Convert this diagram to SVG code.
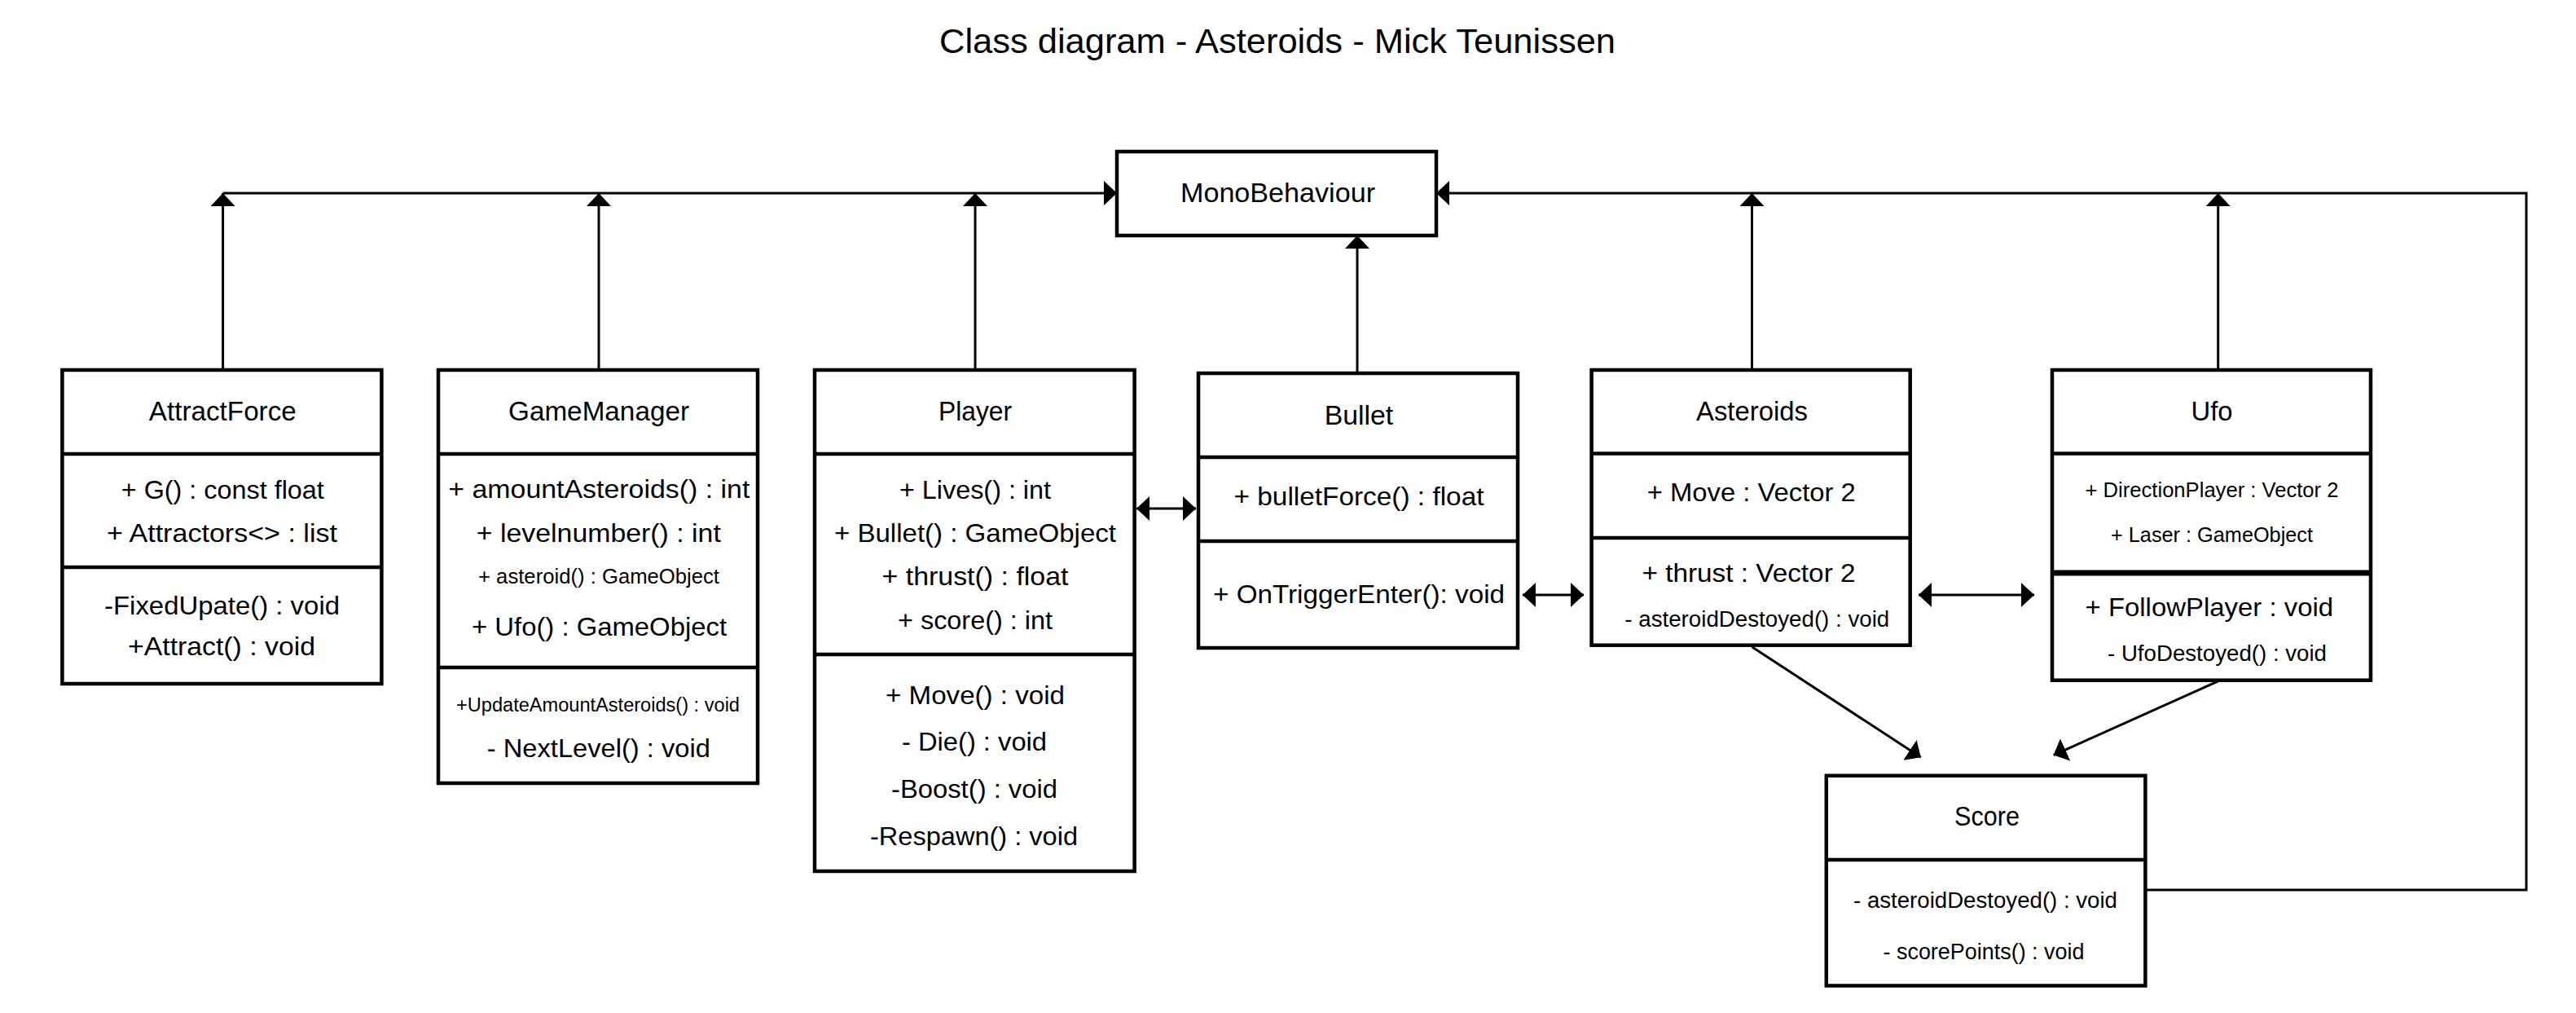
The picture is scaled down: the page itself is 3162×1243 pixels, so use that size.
<svg xmlns="http://www.w3.org/2000/svg" width="3162" height="1243" viewBox="0 0 3162 1243">
<defs>
<style>
.box{fill:#fff;stroke:#000;stroke-width:4.5}
.div{stroke:#000;stroke-width:4.5}
.div2{stroke:#000;stroke-width:7}
.con{fill:none;stroke:#000;stroke-width:3}
text{font-family:"Liberation Sans",Arial,sans-serif;fill:#000;text-anchor:middle}
.ti{font-size:43px}
.nm{font-size:33px}
.mb{font-size:32px}
.sm{font-size:26px}
.xs{font-size:23.5px}
</style>
<marker id="ah" markerUnits="userSpaceOnUse" markerWidth="16" markerHeight="30" viewBox="0 0 16 30" refX="16" refY="15" orient="auto-start-reverse">
<path d="M0,0 L16,15 L0,30 z" fill="#000"/>
</marker>
</defs>
<rect width="3162" height="1243" fill="#fff"/>
<text class="ti" x="1568" y="65" textLength="830" lengthAdjust="spacingAndGlyphs">Class diagram - Asteroids - Mick Teunissen</text>

<g id="connectors">
<path class="con" d="M273.6,454 V237" marker-end="url(#ah)"/>
<path class="con" d="M735,454 V237" marker-end="url(#ah)"/>
<path class="con" d="M1197,454 V237" marker-end="url(#ah)"/>
<path class="con" d="M2150.5,454 V237" marker-end="url(#ah)"/>
<path class="con" d="M2722.7,454 V237" marker-end="url(#ah)"/>
<path class="con" d="M1666,458 V289" marker-end="url(#ah)"/>
<path class="con" d="M273.6,237 H1371" marker-end="url(#ah)"/>
<path class="con" d="M2633.4,1092 H3101 V237 H1763" marker-end="url(#ah)"/>
<path class="con" d="M1395,624 H1468" marker-start="url(#ah)" marker-end="url(#ah)"/>
<path class="con" d="M1869,730 H1944" marker-start="url(#ah)" marker-end="url(#ah)"/>
<path class="con" d="M2355,730 H2497" marker-start="url(#ah)" marker-end="url(#ah)"/>
<path class="con" d="M2150.5,793.8 L2357.8,929.2" marker-end="url(#ah)"/>
<path class="con" d="M2722.7,835.8 L2520.6,926.6" marker-end="url(#ah)"/>
</g>

<g id="MonoBehaviour">
<rect class="box" x="1371" y="186" width="392" height="103"/>
<text class="nm" style="font-size:34px" x="1568.5" y="248" textLength="239" lengthAdjust="spacingAndGlyphs">MonoBehaviour</text>
</g>

<g id="AttractForce">
<rect class="box" x="76.4" y="454" width="392" height="385"/>
<line class="div" x1="76.4" y1="557" x2="468.4" y2="557"/>
<line class="div" x1="76.4" y1="696" x2="468.4" y2="696"/>
<text class="nm" x="273.3" y="516" textLength="181" lengthAdjust="spacingAndGlyphs">AttractForce</text>
<text class="mb" x="273.3" y="611.6" textLength="249" lengthAdjust="spacingAndGlyphs">+ G() : const float</text>
<text class="mb" x="272.5" y="665" textLength="283" lengthAdjust="spacingAndGlyphs">+ Attractors&lt;&gt; : list</text>
<text class="mb" x="272.5" y="754" textLength="289" lengthAdjust="spacingAndGlyphs">-FixedUpate() : void</text>
<text class="mb" x="272" y="804" textLength="230" lengthAdjust="spacingAndGlyphs">+Attract() : void</text>
</g>

<g id="GameManager">
<rect class="box" x="538" y="454" width="392" height="507"/>
<line class="div" x1="538" y1="557" x2="930" y2="557"/>
<line class="div" x1="538" y1="819" x2="930" y2="819"/>
<text class="nm" x="735" y="516" textLength="222" lengthAdjust="spacingAndGlyphs">GameManager</text>
<text class="mb" x="735.3" y="611" textLength="370" lengthAdjust="spacingAndGlyphs">+ amountAsteroids() : int</text>
<text class="mb" x="734.8" y="665" textLength="300" lengthAdjust="spacingAndGlyphs">+ levelnumber() : int</text>
<text class="sm" style="font-size:25.5px" x="735" y="716" textLength="296" lengthAdjust="spacingAndGlyphs">+ asteroid() : GameObject</text>
<text class="mb" x="735.5" y="780" textLength="313" lengthAdjust="spacingAndGlyphs">+ Ufo() : GameObject</text>
<text class="xs" x="734" y="873" textLength="348" lengthAdjust="spacingAndGlyphs">+UpdateAmountAsteroids() : void</text>
<text class="mb" x="734.8" y="929" textLength="274" lengthAdjust="spacingAndGlyphs">- NextLevel() : void</text>
</g>

<g id="Player">
<rect class="box" x="1000" y="454" width="392.6" height="615"/>
<line class="div" x1="1000" y1="557" x2="1392.6" y2="557"/>
<line class="div" x1="1000" y1="803" x2="1392.6" y2="803"/>
<text class="nm" x="1197" y="516" textLength="90" lengthAdjust="spacingAndGlyphs">Player</text>
<text class="mb" x="1197" y="611.6" textLength="186" lengthAdjust="spacingAndGlyphs">+ Lives() : int</text>
<text class="mb" x="1197" y="664.5" textLength="346" lengthAdjust="spacingAndGlyphs">+ Bullet() : GameObject</text>
<text class="mb" x="1197" y="718" textLength="229" lengthAdjust="spacingAndGlyphs">+ thrust() : float</text>
<text class="mb" x="1197" y="772" textLength="190" lengthAdjust="spacingAndGlyphs">+ score() : int</text>
<text class="mb" x="1197" y="863.5" textLength="220" lengthAdjust="spacingAndGlyphs">+ Move() : void</text>
<text class="mb" x="1196" y="921" textLength="178" lengthAdjust="spacingAndGlyphs">- Die() : void</text>
<text class="mb" x="1196" y="978.6" textLength="204" lengthAdjust="spacingAndGlyphs">-Boost() : void</text>
<text class="mb" x="1195.5" y="1037" textLength="255" lengthAdjust="spacingAndGlyphs">-Respawn() : void</text>
</g>

<g id="Bullet">
<rect class="box" x="1471" y="458" width="392" height="337"/>
<line class="div" x1="1471" y1="561" x2="1863" y2="561"/>
<line class="div" x1="1471" y1="664" x2="1863" y2="664"/>
<text class="nm" x="1668" y="520.5" textLength="84.5" lengthAdjust="spacingAndGlyphs">Bullet</text>
<text class="mb" x="1668" y="620" textLength="307" lengthAdjust="spacingAndGlyphs">+ bulletForce() : float</text>
<text class="mb" x="1668" y="740" textLength="358" lengthAdjust="spacingAndGlyphs">+ OnTriggerEnter(): void</text>
</g>

<g id="Asteroids">
<rect class="box" x="1953.6" y="454" width="391.1" height="337.7"/>
<line class="div" x1="1953.6" y1="556.5" x2="2344.7" y2="556.5"/>
<line class="div" x1="1953.6" y1="660" x2="2344.7" y2="660"/>
<text class="nm" x="2150.5" y="515.5" textLength="137" lengthAdjust="spacingAndGlyphs">Asteroids</text>
<text class="mb" x="2149.8" y="615" textLength="256" lengthAdjust="spacingAndGlyphs">+ Move : Vector 2</text>
<text class="mb" x="2146.5" y="714" textLength="262" lengthAdjust="spacingAndGlyphs">+ thrust : Vector 2</text>
<text class="sm" style="font-size:27px" x="2156.8" y="768.6" textLength="325" lengthAdjust="spacingAndGlyphs">- asteroidDestoyed() : void</text>
</g>

<g id="Ufo">
<rect class="box" x="2519" y="454" width="391" height="380.7"/>
<line class="div" x1="2519" y1="556.5" x2="2910" y2="556.5"/>
<line class="div2" x1="2519" y1="703" x2="2910" y2="703"/>
<text class="nm" x="2715" y="515.5" textLength="51" lengthAdjust="spacingAndGlyphs">Ufo</text>
<text class="sm" x="2715" y="610" textLength="311" lengthAdjust="spacingAndGlyphs">+ DirectionPlayer : Vector 2</text>
<text class="sm" x="2715" y="665" textLength="248" lengthAdjust="spacingAndGlyphs">+ Laser : GameObject</text>
<text class="mb" x="2711.8" y="756" textLength="304.5" lengthAdjust="spacingAndGlyphs">+ FollowPlayer : void</text>
<text class="sm" style="font-size:27px" x="2721.5" y="811" textLength="269" lengthAdjust="spacingAndGlyphs">- UfoDestoyed() : void</text>
</g>

<g id="Score">
<rect class="box" x="2241.8" y="951.8" width="391.6" height="257.7"/>
<line class="div" x1="2241.8" y1="1055" x2="2633.4" y2="1055"/>
<text class="nm" x="2439" y="1013" textLength="80" lengthAdjust="spacingAndGlyphs">Score</text>
<text class="sm" style="font-size:27px" x="2437" y="1114" textLength="324" lengthAdjust="spacingAndGlyphs">- asteroidDestoyed() : void</text>
<text class="sm" style="font-size:27px" x="2435" y="1177" textLength="247" lengthAdjust="spacingAndGlyphs">- scorePoints() : void</text>
</g>
</svg>
